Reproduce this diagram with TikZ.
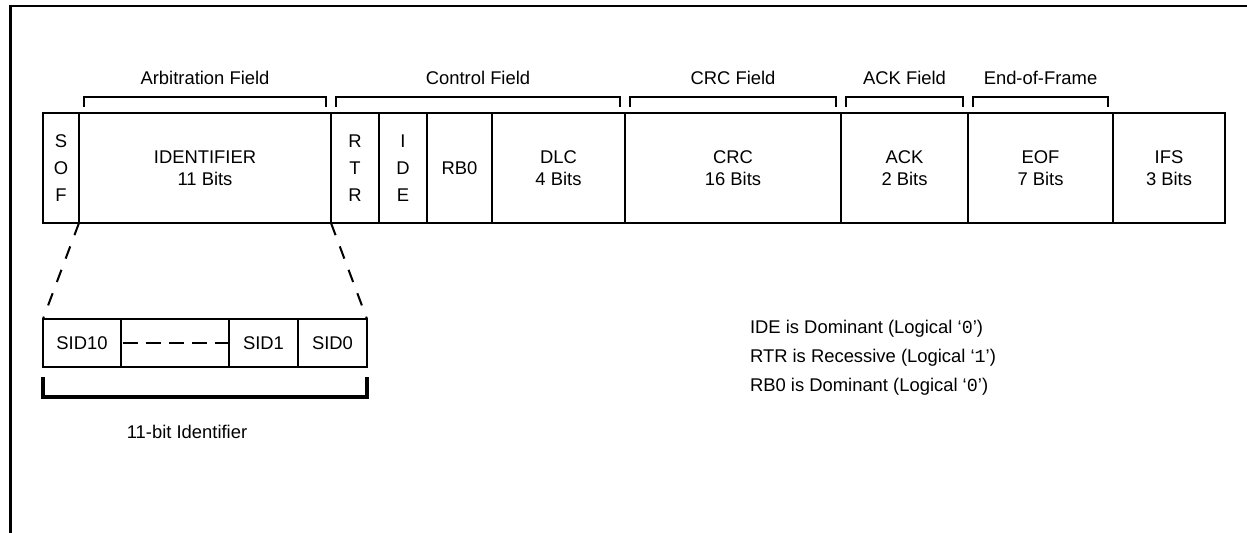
\documentclass[tikz,border=0pt]{standalone}
\usepackage{fontspec}
\setmainfont{Liberation Sans}
\setmonofont{Liberation Mono}
\usetikzlibrary{positioning}

% bracket over a group of cells, with its field name on top
\newcommand{\fieldbracket}[3]{%
  \draw[bracket] ([shift={(2.5pt,3pt)}]#1.north west) -- ++(0,5pt)
    -- node[fieldlabel] {#3} ([shift={(-2.5pt,8pt)}]#2.north east) -- ++(0,-5pt);}

\begin{document}
\begin{tikzpicture}[x=0.5pt, y=-0.5pt,
    every node/.style={font=\fontsize{9.2}{11}\selectfont},
    cell/.style={rectangle, draw, line width=1.2pt, minimum height=55pt, inner sep=0pt, outer sep=0pt, align=center},
    stack/.style={cell, font=\fontsize{9.2}{13.5}\selectfont},
    sid/.style={cell, line width=1.1pt, minimum height=24pt},
    bracket/.style={line width=1pt},
    fieldlabel/.style={above=2.5pt},
    zoomline/.style={line width=1pt, dash pattern=on 6.5pt off 6pt},
    node distance=0pt
]
\useasboundingbox (0,0) rectangle (1247,532);

% outer frame
\draw[line width=1.3pt] (10.5,600) |- (1300,6);

% standard frame
\node[stack, minimum width=18pt, anchor=north west] (sof) at (43,113) {S\\O\\F};
\node[cell, minimum width=126pt, right=of sof] (ident) {IDENTIFIER\\11 Bits};
\node[stack, minimum width=24pt, right=of ident] (rtr) {R\\T\\R};
\node[stack, minimum width=24pt, right=of rtr] (ide) {I\\D\\E};
\node[cell, minimum width=32.5pt, right=of ide] (rbzero) {RB0};
\node[cell, minimum width=66.5pt, right=of rbzero] (dlc) {DLC\\4 Bits};
\node[cell, minimum width=108pt, right=of dlc] (crc) {CRC\\16 Bits};
\node[cell, minimum width=63.5pt, right=of crc] (ack) {ACK\\2 Bits};
\node[cell, minimum width=72.5pt, right=of ack] (eof) {EOF\\7 Bits};
\node[cell, minimum width=56pt, right=of eof] (ifs) {IFS\\3 Bits};

\fieldbracket{ident}{ident}{Arbitration Field}
\fieldbracket{rtr}{dlc}{Control Field}
\fieldbracket{crc}{crc}{CRC Field}
\fieldbracket{ack}{ack}{ACK Field}
\fieldbracket{eof}{eof}{End-of-Frame}

% identifier bits
\node[sid, minimum width=39pt, anchor=north west] (sidten) at (43,319) {SID10};
\node[sid, minimum width=54pt, right=of sidten] (sidgap) {};
\node[sid, minimum width=34.5pt, right=of sidgap] (sidone) {SID1};
\node[sid, minimum width=34.5pt, right=of sidone] (sidzero) {SID0};
\draw[line width=1pt, dash pattern=on 7.5pt off 4pt] ([xshift=1pt]sidgap.west) -- (sidgap.east);

\draw[zoomline] (sof.south east) -- (sidten.north west);
\draw[zoomline] (ident.south east) -- (sidzero.north east);

\draw[line width=1.6pt] ([yshift=-5pt]sidten.south west) -- ++(0,-10pt)
  -- node[below=10pt, xshift=-9pt] (sidlabel) {11-bit Identifier} ([yshift=-15pt]sidzero.south east) -- ++(0,10pt);

% notes
\node[anchor=west, align=left, font=\fontsize{9.2}{14.5}\selectfont] (notes) at (743,358)
  {IDE is Dominant (Logical ‘\texttt{0}’)\\RTR is Recessive (Logical ‘\texttt{1}’)\\RB0 is Dominant (Logical ‘\texttt{0}’)};

\end{tikzpicture}
\end{document}
